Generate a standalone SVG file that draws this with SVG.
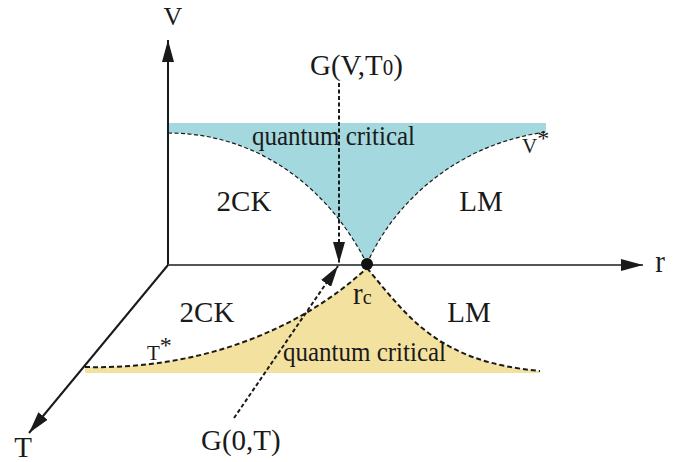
<svg xmlns="http://www.w3.org/2000/svg" width="691" height="462" viewBox="0 0 691 462">
<defs>
<style>
text{font-family:"Liberation Serif","DejaVu Serif",serif;fill:#1a1a1a}
.lab{font-size:29px}
.qc{font-size:25px}
.star{font-size:21px}
.ax{stroke:#1a1a1a;stroke-width:2;fill:none}
.dash{stroke:#1a1a1a;stroke-width:2;fill:none;stroke-dasharray:4,2.5}
.bdt{stroke:#1a1a1a;stroke-width:1.2;fill:none;stroke-dasharray:4,2.5}
.bdb{stroke:#1a1a1a;stroke-width:2;fill:none;stroke-dasharray:5,3}
</style>
<marker id="ah" viewBox="0 0 22 12" refX="22" refY="6" markerWidth="22" markerHeight="12" markerUnits="userSpaceOnUse" orient="auto"><path d="M0,0 L22,6 L0,12 Z" fill="#1a1a1a"/></marker>
<marker id="ah2" viewBox="0 0 21 12" refX="21" refY="6" markerWidth="21" markerHeight="12" markerUnits="userSpaceOnUse" orient="auto"><path d="M0,0 L21,6 L0,12 Z" fill="#1a1a1a"/></marker>
</defs>
<g id="regions">
<path id="qc-top" d="M168,123 L546,123 L546,132 C450,145 390,210 367,264 C330,190 260,133 168,133 Z" fill="#a3d8de"/>
<path id="qc-bottom" d="M85,367 C200,370 300,330 367,268 C410,320 440,362 540,371 L540,373 L85,373 Z" fill="#f3e19f"/>
</g>
<g id="boundaries">
<path class="bdt" d="M168,133 C260,133 330,190 367,264"/>
<path class="bdt" d="M367,264 C390,210 450,145 546,132"/>
<path class="bdb" d="M85,367 C200,370 300,330 367,268"/>
<path class="bdb" d="M367,268 C410,320 440,362 540,371"/>
</g>
<g id="axes">
<line class="ax" x1="168" y1="265" x2="168" y2="40" marker-end="url(#ah)"/>
<line x1="168" y1="265" x2="643" y2="265" stroke="#555" stroke-width="1.8" marker-end="url(#ah)"/>
<line class="ax" x1="168" y1="265" x2="29" y2="433" marker-end="url(#ah)"/>
</g>
<g id="connectors">
<line class="dash" x1="339" y1="83" x2="339" y2="263" marker-end="url(#ah2)"/>
<line class="dash" x1="234" y1="418" x2="338" y2="266" marker-end="url(#ah2)"/>
</g>
<g id="critical-point"><circle cx="367" cy="264" r="6" fill="#111"/></g>
<g id="labels">
<text x="173" y="25" text-anchor="middle" font-size="26">V</text>
<text class="lab" transform="translate(660,272) scale(1,1.1)" text-anchor="middle">r</text>
<text class="lab" transform="translate(23,457) scale(1,1.05)" text-anchor="middle">T</text>
<text class="lab" transform="translate(310,75) scale(1,1.05)">G(V,T<tspan font-size="21">0</tspan>)</text>
<text class="lab" transform="translate(201,450) scale(1,1.05)">G(0,T)</text>
<text class="lab" transform="translate(244,211) scale(1,1.05)" text-anchor="middle">2CK</text>
<text class="lab" transform="translate(481,211) scale(1,1.05)" text-anchor="middle">LM</text>
<text class="lab" transform="translate(207,322) scale(1,1.05)" text-anchor="middle">2CK</text>
<text class="lab" transform="translate(469,322) scale(1,1.05)" text-anchor="middle">LM</text>
<text class="lab" transform="translate(353,304) scale(1,1.1)">r<tspan font-size="20">c</tspan></text>
<text class="qc" transform="translate(252,145) scale(1,1.12)">quantum critical</text>
<text class="qc" transform="translate(283,361) scale(1,1.12)">quantum critical</text>
<text class="star" x="522" y="153">V<tspan dy="-7" font-size="24">*</tspan></text>
<text class="star" x="147" y="360">T<tspan dy="-7" font-size="24">*</tspan></text>
</g>
</svg>
